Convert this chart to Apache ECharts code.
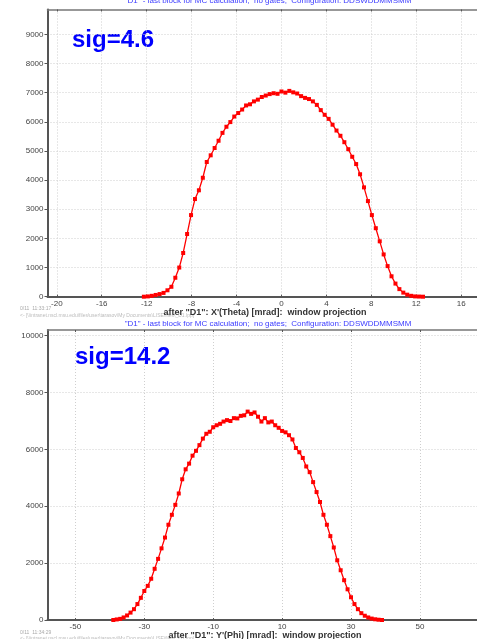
<!DOCTYPE html>
<html>
<head>
<meta charset="utf-8">
<script src="https://cdn.jsdelivr.net/npm/echarts@6/dist/echarts.min.js"></script>
<style>
  html, body { margin: 0; padding: 0; background: #fff; }
  #chart { width: 477px; height: 639px; }
</style>
</head>
<body>
<div id="chart"></div>
<script>
// X'(Theta) projection, bin centres in mrad and counts per bin
const thetaX = [-12.25, -11.9, -11.55, -11.2, -10.85, -10.5, -10.15, -9.8, -9.45, -9.1,
  -8.75, -8.4, -8.05, -7.7, -7.35, -7.0, -6.65, -6.3, -5.95, -5.6,
  -5.25, -4.9, -4.55, -4.2, -3.85, -3.5, -3.15, -2.8, -2.45, -2.1,
  -1.75, -1.4, -1.05, -0.7, -0.35, 0, 0.35, 0.7, 1.05, 1.4,
  1.75, 2.1, 2.45, 2.8, 3.15, 3.5, 3.85, 4.2, 4.55, 4.9,
  5.25, 5.6, 5.95, 6.3, 6.65, 7.0, 7.35, 7.7, 8.05, 8.4,
  8.75, 9.1, 9.45, 9.8, 10.15, 10.5, 10.85, 11.2, 11.55, 11.9,
  12.25, 12.6];
const thetaCounts = [0, 10, 30, 60, 90, 130, 220, 340, 650, 1000,
  1500, 2150, 2800, 3350, 3650, 4080, 4620, 4850, 5100, 5350,
  5620, 5830, 5990, 6180, 6300, 6420, 6560, 6600, 6700, 6760,
  6850, 6900, 6950, 6980, 6960, 7040, 7000, 7060, 7010, 6970,
  6880, 6820, 6780, 6700, 6580, 6400, 6240, 6100, 5900, 5700,
  5520, 5300, 5060, 4800, 4550, 4200, 3750, 3280, 2800, 2350,
  1900, 1450, 1050, 700, 450, 260, 140, 70, 30, 10,
  5, 0];

// Y'(Phi) projection, bin centres in mrad and counts per bin
const phiX = [-39, -38, -37, -36, -35, -34, -33, -32, -31, -30,
  -29, -28, -27, -26, -25, -24, -23, -22, -21, -20,
  -19, -18, -17, -16, -15, -14, -13, -12, -11, -10,
  -9, -8, -7, -6, -5, -4, -3, -2, -1, 0,
  1, 2, 3, 4, 5, 6, 7, 8, 9, 10,
  11, 12, 13, 14, 15, 16, 17, 18, 19, 20,
  21, 22, 23, 24, 25, 26, 27, 28, 29, 30,
  31, 32, 33, 34, 35, 36, 37, 38, 39];
const phiCounts = [0, 20, 40, 90, 160, 260, 380, 560, 780, 1020,
  1200, 1450, 1800, 2150, 2520, 2900, 3350, 3700, 4050, 4450,
  4950, 5300, 5500, 5780, 5950, 6150, 6380, 6550, 6620, 6780,
  6850, 6900, 6980, 7030, 7000, 7100, 7090, 7180, 7200, 7330,
  7250, 7300, 7150, 6980, 7100, 6950, 6980, 6850, 6760, 6650,
  6600, 6500, 6350, 6050, 5900, 5700, 5400, 5200, 4850, 4500,
  4150, 3700, 3350, 2950, 2550, 2100, 1750, 1400, 1080, 800,
  560, 380, 240, 150, 90, 50, 25, 10, 0];

// Tick positions
const thetaTicks = [-20, -16, -12, -8, -4, 0, 4, 8, 12, 16];
const thetaCountTicks = [0, 1000, 2000, 3000, 4000, 5000, 6000, 7000, 8000, 9000];
const phiTicks = [-50, -30, -10, 10, 30, 50];
const phiCountTicks = [0, 2000, 4000, 6000, 8000, 10000];

const FONT = '"Liberation Sans", Arial, sans-serif';
const gridLine = { show: true, lineStyle: { color: '#cfcfcf', type: [1, 2], width: 1 } };
const plain = v => String(v);

function bottomAxis(gridIndex, min, max, ticks) {
  return {
    type: 'value', gridIndex, min, max, position: 'bottom',
    axisLine: { show: true, onZero: false, lineStyle: { color: '#555', width: 2 } },
    axisTick: { show: true, inside: true, length: 2, customValues: ticks, lineStyle: { color: '#555' } },
    axisLabel: { customValues: ticks, formatter: plain, margin: 3, color: '#444', fontSize: 8, fontFamily: FONT },
    splitLine: gridLine
  };
}
function topAxis(gridIndex, min, max, ticks) {
  return {
    type: 'value', gridIndex, min, max, position: 'top',
    axisLine: { show: true, onZero: false, lineStyle: { color: '#777', width: 1.5 } },
    axisTick: { show: true, inside: true, length: 2, customValues: ticks, lineStyle: { color: '#555' } },
    axisLabel: { show: false },
    splitLine: { show: false }
  };
}
function leftAxis(gridIndex, max, ticks) {
  return {
    type: 'value', gridIndex, min: 0, max,
    axisLine: { show: true, onZero: false, lineStyle: { color: '#555', width: 2 } },
    axisTick: { show: true, inside: false, length: 3, customValues: ticks, lineStyle: { color: '#555' } },
    axisLabel: { customValues: ticks, formatter: plain, margin: 4, color: '#444', fontSize: 8, fontFamily: FONT },
    splitLine: gridLine
  };
}
function histSeries(xIndex, yIndex, xs, ys) {
  return {
    type: 'line', xAxisIndex: xIndex, yAxisIndex: yIndex,
    data: xs.map((x, i) => [x, ys[i]]),
    symbol: 'rect', symbolSize: 4, showSymbol: true,
    itemStyle: { color: '#ff0000' },
    lineStyle: { color: '#ff0000', width: 1.3 },
    animation: false, silent: true
  };
}

const blue = '#3b3bff';
const caption = '"D1" - last block for MC calculation;  no gates;  Configuration: DDSWDDMMSMM';
const pathText = '<- [\\\\intranet.nscl.msu.edu\\files\\user\\tarasov\\My Documents\\LISE\\files\\_D1.lpp]';

const chart = echarts.init(document.getElementById('chart'), null, { renderer: 'canvas' });
chart.setOption({
  animation: false,
  backgroundColor: '#fff',
  grid: [
    { left: 47.5, top: 9.5, right: 0, height: 287.2 },
    { left: 47.5, top: 330, right: 0, height: 290 }
  ],
  xAxis: [
    bottomAxis(0, -20.83, 17.41, thetaTicks),
    topAxis(0, -20.83, 17.41, thetaTicks),
    bottomAxis(1, -58.1, 66.57, phiTicks),
    topAxis(1, -58.1, 66.57, phiTicks)
  ],
  yAxis: [
    leftAxis(0, 9852, thetaCountTicks),
    leftAxis(1, 10200, phiCountTicks)
  ],
  series: [
    histSeries(0, 0, thetaX, thetaCounts),
    histSeries(2, 1, phiX, phiCounts)
  ],
  graphic: [
    { type: 'text', x: 268, y: 1, style: { text: caption, fill: blue, font: '8px ' + FONT, align: 'center', verticalAlign: 'middle' } },
    { type: 'text', x: 72, y: 28, style: { text: 'sig=4.6', fill: '#0000ff', font: 'bold 24px ' + FONT } },
    { type: 'text', x: 20, y: 306, style: { text: '0/11  11:33:17', fill: '#aaa', font: '5px ' + FONT } },
    { type: 'text', x: 20, y: 313, style: { text: pathText, fill: '#bbb', font: '5px ' + FONT } },
    { type: 'text', x: 265, y: 313, style: { text: 'after "D1": X\'(Theta) [mrad]:  window projection', fill: '#333', font: 'bold 9px ' + FONT, align: 'center', verticalAlign: 'middle' } },
    { type: 'text', x: 268, y: 324, style: { text: caption, fill: blue, font: '8px ' + FONT, align: 'center', verticalAlign: 'middle' } },
    { type: 'text', x: 75, y: 345, style: { text: 'sig=14.2', fill: '#0000ff', font: 'bold 24px ' + FONT } },
    { type: 'text', x: 20, y: 630, style: { text: '0/11  11:34:29', fill: '#aaa', font: '5px ' + FONT } },
    { type: 'text', x: 20, y: 636, style: { text: pathText, fill: '#bbb', font: '5px ' + FONT } },
    { type: 'text', x: 265, y: 636, style: { text: 'after "D1": Y\'(Phi) [mrad]:  window projection', fill: '#333', font: 'bold 9px ' + FONT, align: 'center', verticalAlign: 'middle' } }
  ]
});
</script>
</body>
</html>
